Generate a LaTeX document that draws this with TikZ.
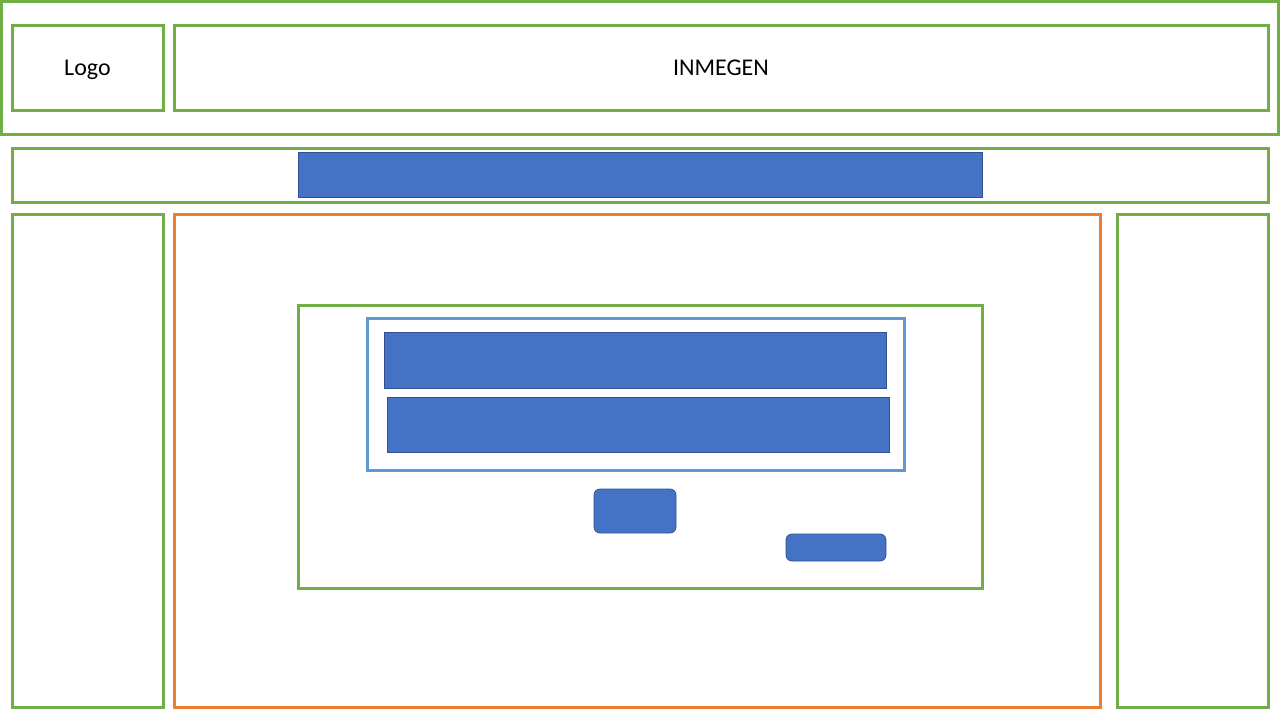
\documentclass[tikz,border=0pt]{standalone}
\usepackage{fontspec}
\setmainfont{Carlito}
\definecolor{boxgreen}{HTML}{70AD47}
\definecolor{boxorange}{HTML}{ED7D31}
\definecolor{boxsky}{HTML}{5B9BD5}
\definecolor{fillblue}{HTML}{4472C4}
\definecolor{edgeblue}{HTML}{2F528F}
\newcommand{\boxtext}[1]{\raisebox{-8pt}[0pt][0pt]{#1}}
\tikzset{
  frame/.style={draw=#1, line width=3pt, inner sep=0pt, outer sep=0pt, anchor=north west},
  field/.style={draw=edgeblue, fill=fillblue, line width=0.8pt, inner sep=0pt, outer sep=0pt, anchor=north west},
  button/.style={field, rounded corners=6pt}
}
\begin{document}
\begin{tikzpicture}[x=1pt, y=-1pt, font=\fontsize{24}{28}\selectfont]
    \useasboundingbox (0,0) rectangle (1280,720);

    % header
    \node[frame=boxgreen, minimum width=1277pt, minimum height=133pt] (header) at (1,1) {};
    \node[frame=boxgreen, minimum width=151pt, minimum height=85pt] (logo) at (12,25) {\boxtext{Logo}};
    \node[frame=boxgreen, minimum width=1094pt, minimum height=85pt] (title) at (174,25) {\boxtext{INMEGEN}};

    % navigation
    \node[frame=boxgreen, minimum width=1256pt, minimum height=54pt] (nav) at (12,148) {};
    \node[field, minimum width=684pt, minimum height=45pt] (menu) at (298,152) {};

    % columns
    \node[frame=boxgreen, minimum width=151pt, minimum height=493pt] (left) at (12,214) {};
    \node[frame=boxorange, minimum width=926pt, minimum height=493pt] (main) at (174,214) {};
    \node[frame=boxgreen, minimum width=151pt, minimum height=493pt] (right) at (1117,214) {};

    % form
    \node[frame=boxgreen, minimum width=684pt, minimum height=283pt] (form) at (298,305) {};
    \node[frame=boxsky, minimum width=537pt, minimum height=152pt] (inputs) at (367,318) {};
    \node[field, minimum width=502pt, minimum height=56pt] (user) at (384,332) {};
    \node[field, minimum width=502pt, minimum height=55pt] (pass) at (387,397) {};
    \node[button, minimum width=82pt, minimum height=44pt] (send) at (594,489) {};
    \node[button, minimum width=100pt, minimum height=27pt] (reset) at (786,534) {};
\end{tikzpicture}
\end{document}
